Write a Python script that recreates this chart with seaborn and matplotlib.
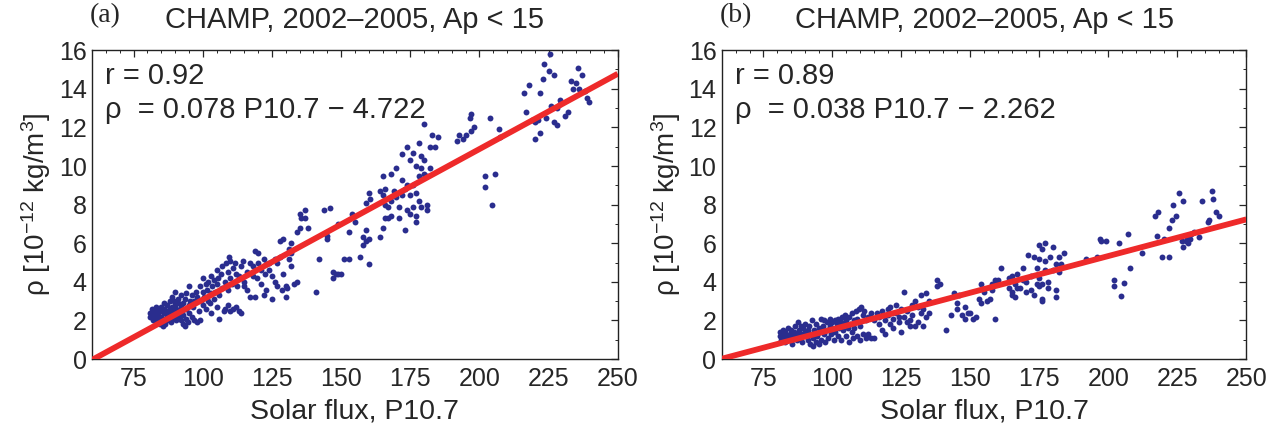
import numpy as np
import pandas as pd
import matplotlib
matplotlib.use("Agg")
import matplotlib.pyplot as plt
import seaborn as sns
from matplotlib.ticker import MultipleLocator

# panel (a): P10.7 vs density
pa = [(81,2.2),(81,2.4),(81.5,2.6),(82,2.0),(82,2.3),(82.5,2.5),(82.5,2.1),(83,2.7),(83,2.2),(83,1.9),
      (83.5,2.4),(84,2.6),(84,2.0),(84,2.3),(84.5,1.8),(85,2.5),(85,2.2),(85,2.7),(85.5,1.7),(85.5,2.0),
      (86,2.4),(86,2.6),(86,2.9),(86.5,2.1),(86.5,1.8),(87,2.3),(87,2.5),(87,2.8),(87.5,2.0),(88,2.6),
      (88,2.2),(88,3.0),(88.5,2.4),(88.5,1.9),(89,2.7),(89,3.2),(89,2.1),(89.5,2.5),(89.5,3.0),(90,2.3),
      (90,2.8),(90,3.5),(90.5,2.0),(90.5,2.6),(91,3.1),(91,2.4),(91,2.9),(91.5,2.2),(92,2.7),(92,3.3),
      (92,2.0),(92.5,2.5),(93,1.8),(93,2.9),(93,2.3),(93.5,1.7),(93.5,3.1),(94,2.6),(94,2.1),(94,3.4),
      (94.5,1.9),(95,2.8),(95,2.4),(95,3.8),(95.5,3.0),(96,2.2),(96,3.3),(96.5,2.7),(97,3.0),(97,2.0),
      (97.5,3.5),(98,1.9),(98,3.2),(98.5,2.5),(99,3.8),(99,2.0),(99.5,3.0),(100,4.2),(100,3.5),(100,2.8),
      (100.5,3.2),(101,3.9),(101,2.6),(101.5,3.6),(102,3.0),(102,4.0),(102.5,2.9),(103,3.4),(103,4.3),(103,2.4),
      (103.5,3.8),(104,4.1),(104,3.1),(104.5,3.5),(105,4.6),(105,3.9),(105,2.7),(105.5,4.2),(106,3.3),(106,2.1),
      (106.5,4.4),(107,3.7),(107,4.8),(107.5,2.5),(108,4.0),(108,2.6),(108.5,5.0),(109,4.5),(109,3.6),(109,2.8),
      (109.5,5.3),(110,4.2),(110,2.5),(110,5.1),(110.5,3.9),(111,4.7),(111,2.6),(111.5,5.0),(112,4.4),(112,2.7),
      (112.5,3.8),(113,4.3),(113,2.5),(114,2.4),(114,4.8),(114.5,5.1),(115,4.0),(115,3.8),(116,4.5),(116,3.6),
      (117,5.0),(117,3.2),(118,4.3),(118,4.8),(119,5.6),(119,3.2),(119.5,4.2),(120,5.0),(120,5.5),(121,4.6),
      (121,3.9),(122,5.2),(122,3.3),(122.5,4.4),(123,4.9),(123,3.6),(124,5.0),(124,4.6),(125,4.3),(125,3.1),
      (126,5.2),(126,4.0),(127,5.0),(127,3.8),(128,6.1),(128,5.3),(128.5,3.6),(129,6.2),(129,4.4),(130,3.8),
      (130,3.2),(130.5,3.7),(131,5.7),(131,5.2),(132,5.5),(132,6.0),(132,4.8),(133,3.9),(134,4.0),(134,6.6),
      (135,7.5),(135,6.8),(135.5,7.3),(137,7.7),(137,7.3),(138,6.8),(141,3.5),(142,5.2),(144,7.7),(145,6.4),
      (145,6.2),(146,7.8),(147,4.5),(147,4.2),(148,4.4),(149,4.4),(150,4.4),(149,7.0),(151,5.2),(153,5.2),
      (153,6.6),(154,7.5),(155,7.1),(157,5.3),(158,6.3),(158,5.9),(159,6.7),(159,6.1),(160,4.9),(160,6.2),
      (160,8.6),(159,8.1),(160.5,8.3),(164,8.7),(164,6.3),(165,9.5),(165,8.5),(165,6.8),(166,8.8),(166,7.3),
      (166,8.0),(167,7.3),(167,7.9),(168,9.6),(168,8.2),(168,7.4),(169,8.7),(170,9.9),(170,8.4),(171,7.9),
      (171,7.3),(172,10.6),(172,9.3),(172,8.5),(173,6.7),(173,8.8),(174,11.0),(174,9.0),(174,7.7),(175,10.3),
      (175,8.5),(175,7.5),(176,10.7),(176,9.0),(176,7.9),(177,10.0),(177,8.6),(177,7.4),(177,7.1),(178,11.2),
      (178,9.5),(178,8.2),(179,10.5),(179,9.9),(179,7.9),(180,12.2),(180,10.3),(180,9.6),(181,9.5),(181,8.0),
      (181,7.7),(182,9.9),(182,11.0),(183,11.6),(184,11.0),(185,11.5),(192,11.3),(192.5,11.6),(194,11.4),(195,11.6),
      (196.5,12.5),(197,12.7),(198,12.0),(197,11.8),(202,9.5),(202,8.9),(204,12.5),(204.5,8.0),(205.5,9.6),(207,11.9),
      (207.5,11.5),(216,13.8),(218,14.2),(217,12.8),(219,12.4),(220,11.4),(220,12.3),(221,12.4),(222,13.8),(222,11.7),
      (223,14.5),(223.5,15.3),(224,12.5),(225,14.9),(225.5,15.8),(226,13.1),(227,14.7),(227,12.3),(228,12.1),(228,13.0),
      (229,13.4),(229,13.2),(231,12.6),(232,12.8),(233,14.4),(234,14.0),(235,14.3),(235.5,15.1),(236,14.0),(237,14.7),
      (238,13.9),(239,13.5),(239.5,13.3)]

# panel (b)
pb = [(81,1.4),(81,1.2),(81.5,1.0),(82,1.5),(82,1.1),(82.5,1.3),(83,0.9),(83,1.4),(83.5,1.2),(84,1.6),
      (84,1.0),(84.5,1.3),(85,1.1),(85,1.5),(85.5,0.8),(86,1.4),(86,1.2),(86.5,1.7),(87,1.0),(87,1.3),
      (87.5,1.9),(88,1.5),(88,1.1),(88.5,1.7),(89,1.3),(89,0.9),(89.5,1.6),(90,1.4),(90,1.8),(90.5,1.2),
      (91,1.5),(91,1.0),(91.5,1.7),(92,0.8),(92,1.3),(92.5,2.0),(93,1.1),(93,0.7),(93.5,1.5),(94,0.9),
      (94,1.8),(94.5,1.2),(95,1.6),(95,0.8),(95.5,1.4),(96,2.1),(96,1.0),(96.5,1.7),(97,1.3),(97,2.0),
      (97.5,0.9),(98,1.5),(98,1.9),(98.5,1.1),(99,1.7),(99,2.1),(99.5,1.3),(100,1.6),(100,1.9),(100.5,1.0),
      (101,2.0),(101,1.4),(101.5,1.8),(102,1.2),(102,2.1),(102.5,1.6),(103,1.9),(103,1.0),(103.5,2.2),(104,1.5),
      (104,1.8),(104.5,2.3),(105,1.2),(105,2.0),(105.5,1.6),(106,0.9),(106,2.2),(106.5,1.8),(107,1.4),(107,2.4),
      (107.5,1.1),(108,2.0),(108,1.6),(108.5,2.5),(109,1.2),(109,2.1),(109.5,2.6),(110,1.7),(110,1.0),(110.5,2.7),
      (111,2.3),(111,1.3),(111.5,2.5),(112,1.1),(112,2.0),(113,2.2),(113,1.3),(114,1.1),(114,2.4),(115,2.0),
      (115,1.1),(116,2.4),(117,1.8),(117,2.2),(118,2.5),(118,1.5),(119,2.0),(119,1.3),(120,2.6),(120,2.3),
      (121,1.8),(121,2.7),(122,2.1),(122,1.6),(123,2.4),(123,2.8),(124,1.9),(124,2.2),(125,1.4),(125,2.6),
      (126,2.2),(126,3.5),(127,2.5),(127,1.9),(128,2.0),(128,1.7),(129,2.8),(129,2.3),(130,1.7),(130,3.0),
      (131,1.9),(131,2.7),(132,3.3),(132,2.4),(133,2.6),(133,1.7),(134,3.4),(134,2.2),(135,2.4),(135,3.0),
      (138,3.8),(138,4.1),(139,3.9),(141,1.5),(143,2.3),(144,3.4),(145,2.6),(145,2.9),(146,3.3),(147,2.3),
      (148,2.1),(148,2.7),(149,2.4),(150,2.4),(151,2.1),(152,2.2),(153,3.1),(154,3.9),(154,2.9),(155,3.5),
      (156,3.0),(157,3.1),(158,3.9),(158,3.6),(159,4.1),(159,2.1),(160,4.1),(160,3.9),(161,4.7),(164,4.2),
      (164,3.7),(165,3.3),(165,4.3),(165,3.5),(166,3.9),(166,3.2),(167,3.7),(167,4.4),(168,3.7),(169,4.1),
      (169,4.7),(170,3.5),(170,4.0),(171,5.4),(172,4.3),(172,3.6),(173,5.3),(173,3.3),(174,4.7),(174,3.9),
      (175,5.9),(175,5.2),(175,4.2),(175,3.8),(176,5.7),(176,3.1),(176,3.0),(176,3.9),(177,4.6),(177,5.1),
      (177,6.0),(178,4.0),(178,3.7),(179,5.3),(180,5.8),(180,4.6),(181,3.6),(181,3.2),(181,4.9),(182,5.3),
      (182,4.5),(183,4.9),(184,5.5),(192,5.2),(196,5.3),(197,6.2),(197.5,6.1),(199,6.1),(202,4.1),(202,3.8),
      (204,6.0),(204.5,3.25),(205.5,3.95),(207,6.5),(208,4.7),(212,5.5),(217,7.4),(218,7.6),(217.5,6.4),(219.5,5.3),
      (220,6.2),(222,5.3),(222,6.8),(223,7.2),(223.5,8.0),(224.5,7.4),(225.5,8.6),(226.5,6.1),(227,5.8),(227,8.2),
      (228,6.1),(228.5,6.3),(229,6.0),(230,6.5),(231,6.6),(233,6.3),(234,8.2),(236,7.1),(236.5,7.2),(237.5,8.7),
      (238,8.3),(239,7.6),(240,7.4),(229.5,6.2)]

fit_a = (0.078, -4.722, 0.92)
fit_b = (0.038, -2.262, 0.89)
labels = ["(a)", "(b)"]

sns.set_style("white")
plt.rcParams['font.family'] = ['Liberation Sans', 'DejaVu Sans']
plt.rcParams['mathtext.fontset'] = 'custom'
plt.rcParams['mathtext.rm'] = 'Liberation Sans'
plt.rcParams['mathtext.it'] = 'Liberation Sans:italic'

fig = plt.figure(figsize=(12.79, 4.29), dpi=100)
axes = [fig.add_axes([0.072, 0.163, 0.411, 0.72]),
        fig.add_axes([0.5645, 0.163, 0.41, 0.72])]

for ax, pts, (m, c, r), lab in zip(axes, [pa, pb], [fit_a, fit_b], labels):
    df = pd.DataFrame(pts, columns=["P107", "rho"])
    sns.scatterplot(data=df, x="P107", y="rho", ax=ax, s=18, color="#2a2d8e",
                    linewidth=0, zorder=2)
    xl = np.array([60, 250])
    ax.plot(xl, m * xl + c, color="#ee2a2a", lw=4.2, zorder=3, solid_capstyle="butt")
    ax.set_xlim(60, 250)
    ax.set_ylim(0, 16)
    ax.xaxis.set_minor_locator(MultipleLocator(5))
    ax.set_xticks(np.arange(75, 251, 25))
    ax.yaxis.set_major_locator(MultipleLocator(2))
    ax.yaxis.set_minor_locator(MultipleLocator(1))
    ax.tick_params(which="both", direction="in", top=True, right=True, labelsize=18)
    ax.tick_params(axis="x", pad=6)
    ax.tick_params(axis="y", pad=4)
    ax.tick_params(which="major", length=5, width=0.9)
    ax.tick_params(which="minor", length=2.5, width=0.7)
    for sp in ax.spines.values():
        sp.set_linewidth(1.0)
        sp.set_color("#222222")
    ax.set_xlabel("Solar flux, P10.7", fontsize=20.5, labelpad=5)
    ax.set_ylabel(r"ρ [10$^{-12}$ kg/m$^3$]", fontsize=20, labelpad=4)
    ax.set_title("CHAMP, 2002\u20132005, Ap < 15", fontsize=21, pad=16)
    ax.text(-0.005, 1.07, lab, transform=ax.transAxes, fontsize=20,
            family="Liberation Serif", ha="left", va="bottom")
    ax.text(0.025, 0.915, f"r = {r:.2f}", transform=ax.transAxes, fontsize=21, va="center")
    ax.text(0.025, 0.805, f"ρ  = {m:.3f} P10.7 \u2212 {abs(c):.3f}", transform=ax.transAxes,
            fontsize=21, va="center")

fig.savefig("out.png", dpi=100)
